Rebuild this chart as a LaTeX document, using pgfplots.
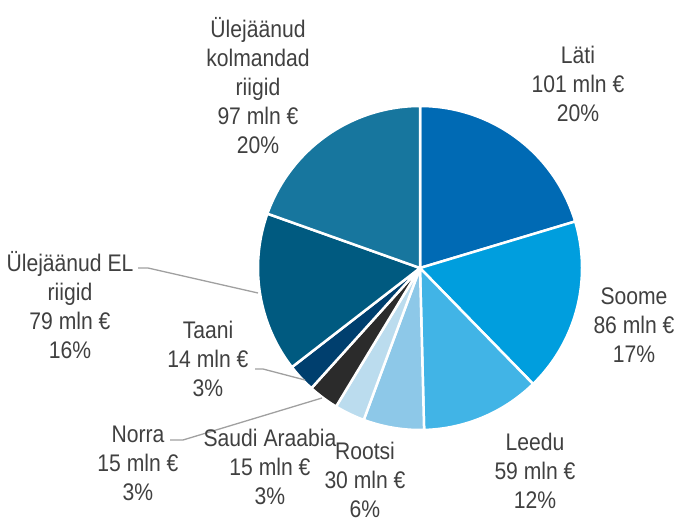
\documentclass[border=0pt]{standalone}
\usepackage{pgfplots}
\pgfplotsset{compat=1.18}
\usepackage{fontspec}
\setmainfont[FakeStretch=0.88]{Liberation Sans}
\definecolor{cLati}{RGB}{0,106,180}
\definecolor{cSoome}{RGB}{0,158,222}
\definecolor{cLeedu}{RGB}{65,180,230}
\definecolor{cRootsi}{RGB}{141,200,232}
\definecolor{cSaudi}{RGB}{187,220,238}
\definecolor{cNorra}{RGB}{43,43,43}
\definecolor{cTaani}{RGB}{0,63,110}
\definecolor{cEL}{RGB}{0,90,128}
\definecolor{cKolm}{RGB}{23,118,158}
\definecolor{txt}{RGB}{64,64,64}
\definecolor{lead}{RGB}{160,160,160}
% values (mln EUR), clockwise from top: 101,86,59,30,15,15,14,79,97 ; total 496
% cumulative: 0,101,187,246,276,291,306,320,399,496
\newcommand{\pieslice}[3]{%
  \addplot[fill=#3, draw=white, line width=2.5pt, domain={90-#2/496*360}:{90-#1/496*360}, samples=80]
    ({420+162*cos(x)},{249+162*sin(x)}) -- (420,249) -- cycle;}
\begin{document}
\begin{tikzpicture}
\begin{axis}[hide axis, scale only axis, width=677pt, height=517pt,
  xmin=0, xmax=677, ymin=0, ymax=517, clip=false, at={(0,0)}, anchor=south west]
\pieslice{0}{101}{cLati}
\pieslice{101}{187}{cSoome}
\pieslice{187}{246}{cLeedu}
\pieslice{246}{276}{cRootsi}
\pieslice{276}{291}{cSaudi}
\pieslice{291}{306}{cNorra}
\pieslice{306}{320}{cTaani}
\pieslice{320}{399}{cEL}
\pieslice{399}{496}{cKolm}
\draw[lead, line width=1.3pt] (138,249) -- (148,249) -- (258,224);
\draw[lead, line width=1.3pt] (255,148) -- (263,148) -- (305,137);
\draw[lead, line width=1.3pt] (170,77) -- (183,77) -- (322,119);
\tikzset{lbl/.style={align=center, text=txt, font=\fontsize{24}{29}\selectfont, inner sep=0pt}}
\node[lbl] at (578,433) {Läti\\101 mln €\\20\%};
\node[lbl] at (258,431) {Ülejäänud\\kolmandad\\riigid\\97 mln €\\20\%};
\node[lbl] at (634,192) {Soome\\86 mln €\\17\%};
\node[lbl] at (535,46) {Leedu\\59 mln €\\12\%};
\node[lbl] at (365,37) {Rootsi\\30 mln €\\6\%};
\node[lbl] at (270,50) {Saudi Araabia\\15 mln €\\3\%};
\node[lbl] at (138,54) {Norra\\15 mln €\\3\%};
\node[lbl] at (208,158) {Taani\\14 mln €\\3\%};
\node[lbl] at (70,212) {Ülejäänud EL\\riigid\\79 mln €\\16\%};
\end{axis}
\pgfresetboundingbox
\path (0,0) rectangle (677pt,517pt);
\end{tikzpicture}
\end{document}
